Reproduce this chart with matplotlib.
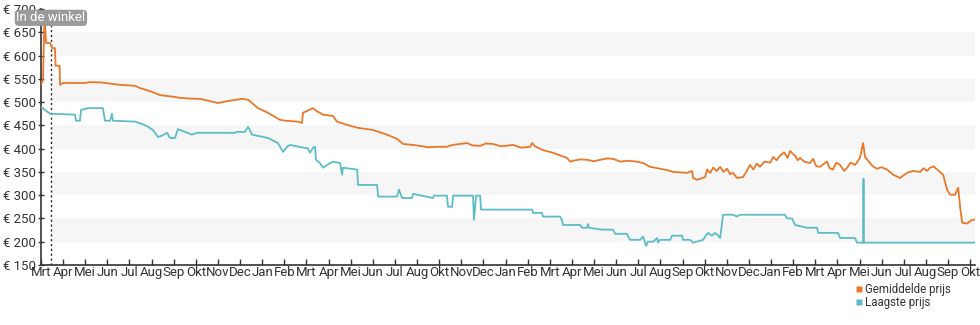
import matplotlib
matplotlib.use("Agg")
import matplotlib.pyplot as plt
from matplotlib.lines import Line2D

plt.rcParams['font.family'] = ['Roboto', 'DejaVu Sans']

# month labels on the x axis (one tick per label, as in the source chart)
month_labels = ["Mrt", "Apr", "Mei", "Jun", "Jul", "Aug", "Sep", "Okt", "Nov", "Dec",
                "Jan", "Feb", "Mrt", "Apr", "Mei", "Jun", "Jul", "Aug", "Okt", "Nov", "Dec",
                "Jan", "Feb", "Mrt", "Apr", "Mei", "Jun", "Jul", "Aug", "Sep", "Okt", "Nov", "Dec",
                "Jan", "Feb", "Mrt", "Apr", "Mei", "Jun", "Jul", "Aug", "Sep", "Okt"]

# average price (time in months since first tick)
avg_t = [0.00, 0.09, 0.16, 0.23, 0.41, 0.50, 0.63, 0.66, 0.84, 0.86, 0.99, 1.99, 2.22, 2.76,
         3.57, 4.25, 4.48, 5.02, 5.38, 6.06, 6.28, 6.96, 7.19, 8.00, 8.54, 9.09, 9.36, 9.81,
         10.26, 10.80, 11.03, 11.62, 11.80, 11.84, 12.30, 12.48, 12.75, 13.20, 13.38, 13.83,
         14.29, 15.01, 15.64, 16.09, 16.37, 16.8, 17.13, 17.5, 17.90, 18.35, 18.6, 18.94,
         19.26, 19.5, 19.85, 20.1, 20.43, 20.8, 21.34, 21.7, 22.11, 22.20, 22.33, 22.69,
         23.15, 23.78, 23.92, 24.05, 24.4, 24.68, 25.0, 25.27, 25.6, 25.86, 26.2, 26.49,
         26.94, 27.22, 27.53, 27.98, 28.3, 28.57, 29.20, 29.43, 29.48, 29.66, 30.02, 30.11,
         30.25, 30.38, 30.55, 30.70, 30.85, 31.01, 31.15, 31.28, 31.46, 31.74, 31.90, 32.05,
         32.20, 32.35, 32.50, 32.70, 32.96, 33.10, 33.25, 33.41, 33.60, 33.75, 33.86, 34.00,
         34.09, 34.20, 34.31, 34.50, 34.76, 34.90, 35.05, 35.22, 35.40, 35.53, 35.65, 35.80,
         35.95, 36.12, 36.30, 36.44, 36.60, 36.80, 36.90, 37.02, 37.16, 37.25, 37.48, 37.60,
         37.79, 38.00, 38.25, 38.52, 38.83, 39.15, 39.40, 39.74, 39.90, 40.05, 40.19, 40.35,
         40.51, 40.78, 40.96, 41.09, 41.32, 41.46, 41.55, 41.64, 41.86, 42.09, 42.22]
avg_price = [537, 548, 688, 627, 627, 616, 616, 578, 578, 537, 541, 541, 543, 542,
             537, 535, 530, 522, 515, 511, 509, 507, 507, 498, 503, 507, 505, 487,
             477, 462, 460, 458, 455, 477, 487, 480, 473, 470, 458, 451,
             445, 440, 430, 421, 410, 408, 406, 403, 404, 404, 408, 410,
             412, 407, 406, 411, 410, 405, 408, 402, 404, 412, 405, 397,
             391, 380, 372, 374, 377, 376, 373, 376, 379, 378, 372, 374,
             372, 369, 361, 357, 354, 350, 348, 352, 337, 333, 339, 355,
             348, 359, 352, 361, 350, 357, 345, 348, 337, 339, 352, 365,
             355, 368, 361, 372, 370, 382, 375, 385, 392, 380, 395, 388,
             385, 375, 380, 372, 369, 378, 362, 361, 368, 372, 358, 355,
             370, 365, 352, 359, 370, 365, 372, 380, 412, 382, 369, 362,
             357, 360, 355, 344, 337, 348, 352, 350, 358, 352, 359, 362,
             355, 344, 312, 301, 301, 316, 273, 241, 239, 247, 247]

# lowest price
low_t = [0.00, 0.18, 0.41, 1.54, 1.58, 1.76, 1.81, 2.12, 2.80, 2.89, 3.12, 3.21, 3.25, 4.25,
         4.57, 4.84, 5.06, 5.29, 5.47, 5.70, 5.83, 6.06, 6.19, 6.51, 6.83, 7.05, 8.77, 8.86,
         9.22, 9.36, 9.54, 10.26, 10.71, 10.94, 11.12, 11.26, 12.07, 12.16, 12.30, 12.39,
         12.43, 12.61, 12.75, 12.93, 13.20, 13.52, 13.61, 13.65, 14.29, 14.33, 15.19, 15.24,
         16.09, 16.18, 16.32, 16.77, 16.82, 17.00, 17.72, 17.77, 18.35, 18.40, 18.58, 18.63,
         19.53, 19.57, 19.67, 19.85, 19.89, 21.65, 22.20, 22.24, 22.65, 22.69, 23.46, 23.55,
         23.60, 24.37, 24.46, 24.68, 24.73, 24.77, 25.36, 25.86, 25.95, 26.49, 26.54, 26.63,
         27.08, 27.22, 27.35, 27.44, 27.67, 27.85, 27.89, 27.98, 28.44, 28.53, 28.98, 29.02,
         29.34, 29.48, 29.93, 30.02, 30.15, 30.33, 30.47, 30.61, 30.70, 30.83, 31.28, 31.46,
         31.60, 33.63, 33.72, 33.95, 34.09, 34.62, 35.08, 35.13, 36.03, 36.12, 36.80, 36.89,
         37.16, 37.18, 37.20, 42.22]
low_price = [490, 483, 475, 473, 460, 460, 483, 487, 487, 460, 460, 475, 460, 458,
             453, 447, 440, 425, 428, 434, 423, 423, 442, 436, 430, 434, 434, 436,
             436, 447, 430, 423, 412, 393, 404, 408, 400, 391, 402, 404,
             376, 369, 359, 365, 372, 369, 344, 359, 355, 322, 322, 297,
             297, 312, 294, 294, 303, 301, 294, 299, 299, 275, 275, 299,
             299, 247, 299, 299, 269, 269, 269, 262, 262, 254, 254, 247,
             236, 236, 230, 230, 238, 230, 226, 226, 217, 217, 211, 204,
             204, 211, 191, 200, 200, 208, 198, 204, 204, 213, 213, 204,
             204, 198, 204, 211, 219, 213, 219, 213, 208, 258, 258, 254,
             258, 258, 250, 250, 236, 230, 230, 219, 219, 208, 208, 198,
             198, 335, 198, 198]

in_store_t = 0.45
band_ranges = [(200, 250), (300, 350), (400, 450), (500, 550), (600, 650)]
y_ticks = [150, 200, 250, 300, 350, 400, 450, 500, 550, 600, 650, 700]

orange = '#e8782a'
teal = '#5dbdc6'
text_col = '#333333'

fig = plt.figure(figsize=(9.8, 3.25), dpi=100)
ax = fig.add_axes([41 / 980, 1 - 265 / 325, 934 / 980, 256 / 325])

x_max = 42.22
for lo, hi in band_ranges:
    ax.fill_between([in_store_t, x_max], lo, hi, color='#f6f6f6', lw=0, zorder=0)

ax.plot(avg_t, avg_price, color=orange, lw=1.3, zorder=3)
ax.plot(low_t, low_price, color=teal, lw=1.3, zorder=3)

ax.axvline(in_store_t, color='#222222', lw=1, ls=(0, (1.5, 2)), zorder=2)
ax.text(in_store_t, 681, "In de winkel", ha='center', va='center', fontsize=9.5,
        color='white', clip_on=False, zorder=5,
        bbox=dict(boxstyle='round,pad=0.12,rounding_size=0.3', fc='#9a9a9a', ec='none'))

ax.set_xlim(0, x_max)
ax.set_ylim(150, 700)

ax.set_yticks(y_ticks)
ax.set_yticklabels(["€ {}".format(v) for v in y_ticks])
ax.set_xticks(range(len(month_labels)))
ax.set_xticklabels(month_labels)

for s in ['top', 'right']:
    ax.spines[s].set_visible(False)
for s in ['left', 'bottom']:
    ax.spines[s].set_color(text_col)
    ax.spines[s].set_linewidth(1.2)

ax.tick_params(axis='y', direction='inout', length=5, width=1, color=text_col,
               labelsize=9.5, labelcolor=text_col, pad=1)
ax.tick_params(axis='x', direction='in', length=4, width=1, color=text_col,
               labelsize=9.5, labelcolor=text_col, pad=1)

handles = [Line2D([], [], marker='s', color='none', markerfacecolor=orange,
                  markeredgecolor='none', markersize=5, label='Gemiddelde prijs'),
           Line2D([], [], marker='s', color='none', markerfacecolor=teal,
                  markeredgecolor='none', markersize=5, label='Laagste prijs')]
fig.legend(handles=handles, loc='lower right', bbox_to_anchor=(0.976, 0.03), frameon=False,
           fontsize=8.3, handlelength=0.6, handletextpad=0.2, labelspacing=0.05,
           borderpad=0, labelcolor=text_col)

fig.savefig('out.png', dpi=100)
